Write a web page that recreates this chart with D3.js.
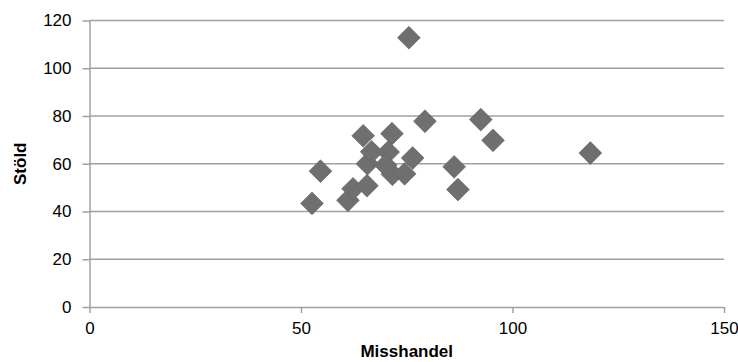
<!DOCTYPE html>
<html>
<head>
<meta charset="utf-8">
<script src="https://cdn.jsdelivr.net/npm/d3@7"></script>
<style>
  body { margin: 0; background: #fff; }
  text { font-family: "Liberation Sans", Arial, Helvetica, sans-serif; fill: #000; }
</style>
</head>
<body>
<div id="chart"></div>
<script>
var width = 738;
var height = 362;

// data
var misshandel = [75.5, 64.7, 71.5, 79.3, 92.5, 95.4, 118.4, 54.6, 52.6, 61.1, 62.3,
                  65.6, 65.7, 66.7, 70.6, 70.0, 71.6, 74.5, 76.4, 86.2, 87.1];
var stold =      [112.8, 71.7, 72.6, 77.8, 78.5, 69.8, 64.5, 56.9, 43.4, 44.7, 49.5,
                  50.8, 60.0, 65.0, 64.9, 59.4, 55.6, 55.8, 62.4, 58.7, 49.2];
var xTicks = [0, 50, 100, 150];
var yTicks = [0, 20, 40, 60, 80, 100, 120];

var xScale = d3.scaleLinear().domain([0, 150]).range([89.5, 724]);
var yScale = d3.scaleLinear().domain([0, 120]).range([307, 20.5]);

var svg = d3.select("#chart").append("svg")
    .attr("width", width)
    .attr("height", height);

// horizontal gridlines
svg.append("g").selectAll("line")
    .data(yTicks.filter(function(d) { return d > 0; }))
    .enter().append("line")
    .attr("x1", xScale(0)).attr("x2", xScale(150))
    .attr("y1", function(d) { return yScale(d); })
    .attr("y2", function(d) { return yScale(d); })
    .attr("stroke", "#a0a0a0")
    .attr("stroke-width", 1.5);

var xAxis = d3.axisBottom(xScale).tickValues(xTicks).tickSize(6).tickPadding(9);
var yAxis = d3.axisLeft(yScale).tickValues(yTicks).tickSize(7).tickPadding(11);

var gx = svg.append("g")
    .attr("transform", "translate(0," + yScale(0) + ")")
    .call(xAxis);
var gy = svg.append("g")
    .attr("transform", "translate(" + xScale(0) + ",0)")
    .call(yAxis);

[gx, gy].forEach(function(g) {
    g.select(".domain").attr("stroke", "#a0a0a0").attr("stroke-width", 1.5);
    g.selectAll(".tick line").attr("stroke", "#a0a0a0").attr("stroke-width", 1.5);
    g.selectAll(".tick text")
        .attr("fill", "#000")
        .style("font-size", "17px")
        .style("font-family", "'Liberation Sans', Arial, sans-serif");
});
gy.select(".domain").attr("d", "M0.5," + yScale(120) + "V" + yScale(0));
gx.select(".domain").attr("d", "M" + xScale(0) + ",0.5H" + xScale(150));

// axis titles
svg.append("text")
    .attr("x", (xScale(0) + xScale(150)) / 2)
    .attr("y", 357)
    .attr("text-anchor", "middle")
    .style("font-size", "17px")
    .style("font-weight", "bold")
    .text("Misshandel");

svg.append("text")
    .attr("transform", "translate(26," + ((yScale(0) + yScale(120)) / 2) + ") rotate(-90)")
    .attr("text-anchor", "middle")
    .style("font-size", "17px")
    .style("font-weight", "bold")
    .text("Stöld");

// diamond markers
var diamond = d3.symbol().type(d3.symbolSquare).size(260);
svg.append("g").selectAll("path")
    .data(d3.range(misshandel.length))
    .enter().append("path")
    .attr("d", diamond)
    .attr("transform", function(i) {
        return "translate(" + xScale(misshandel[i]) + "," + yScale(stold[i]) + ") rotate(45)";
    })
    .attr("fill", "#6f6f6f")
    .attr("stroke", "#646464")
    .attr("stroke-width", 0.6);
</script>
</body>
</html>
